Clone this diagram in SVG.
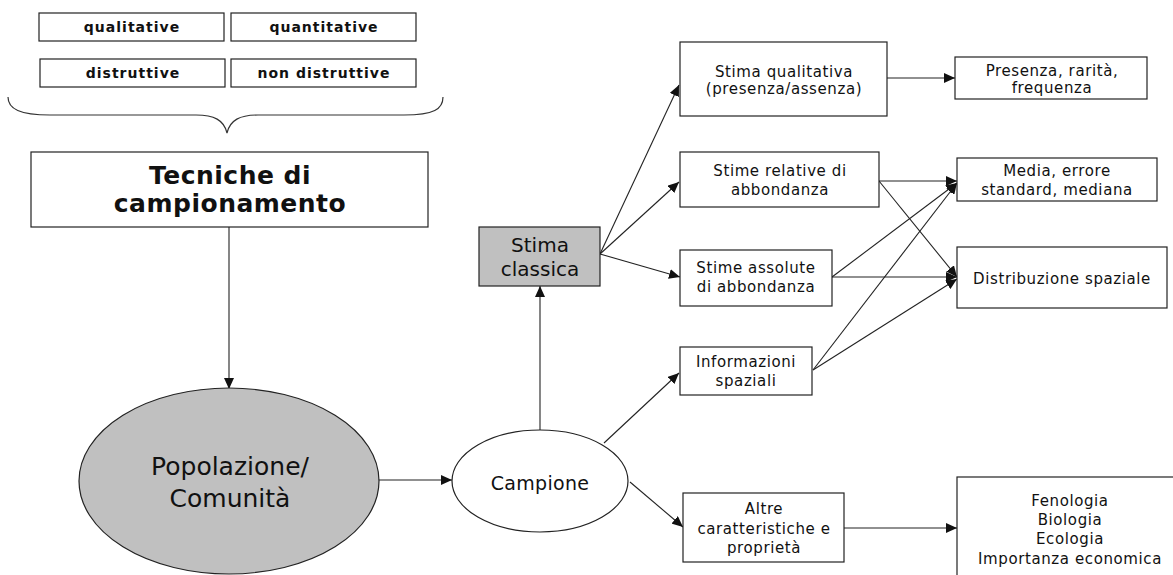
<svg xmlns="http://www.w3.org/2000/svg" width="1173" height="575" viewBox="0 0 1173 575">
<style>
.box{fill:#fff;stroke:#222;stroke-width:1.2}
.gray{fill:#c0c0c0;stroke:#222;stroke-width:1.2}
.t{font-family:"DejaVu Sans","Liberation Sans",sans-serif;fill:#111;text-anchor:middle}
.s{font-size:15px;letter-spacing:0.6px}
.b{font-weight:bold;font-size:14px;letter-spacing:1px}
.c{stroke:#222;stroke-width:1.1;fill:none;marker-end:url(#ah)}
</style>
<defs>
<marker id="ah" markerUnits="userSpaceOnUse" markerWidth="12" markerHeight="10" refX="11" refY="5" orient="auto">
<path d="M0,0 L11,5 L0,10 Z" fill="#111"/>
</marker>
</defs>
<rect width="1173" height="575" fill="#fff"/>

<g id="connectors">
<line class="c" x1="229" y1="227" x2="229" y2="389"/>
<line class="c" x1="378" y1="480" x2="452" y2="480"/>
<line class="c" x1="540" y1="430" x2="540" y2="286"/>
<line class="c" x1="600" y1="254" x2="679" y2="85"/>
<line class="c" x1="600" y1="254" x2="679" y2="182"/>
<line class="c" x1="600" y1="254" x2="680" y2="277"/>
<line class="c" x1="604" y1="443" x2="679" y2="373"/>
<line class="c" x1="630" y1="482" x2="683" y2="527"/>
<line class="c" x1="887" y1="78" x2="955" y2="78"/>
<line class="c" x1="879" y1="181" x2="957" y2="181"/>
<line class="c" x1="879" y1="181" x2="957" y2="277"/>
<line class="c" x1="832" y1="277" x2="957" y2="183"/>
<line class="c" x1="832" y1="277" x2="957" y2="277"/>
<line class="c" x1="813" y1="370" x2="957" y2="183"/>
<line class="c" x1="813" y1="370" x2="957" y2="279"/>
<line class="c" x1="844" y1="528" x2="957" y2="528"/>
</g>

<g id="qualitative"><rect class="box" x="39" y="13" width="185" height="28"/><text class="t b" x="132" y="32">qualitative</text></g>
<g id="quantitative"><rect class="box" x="231" y="13" width="185" height="28"/><text class="t b" x="324" y="32">quantitative</text></g>
<g id="distruttive"><rect class="box" x="40" y="59" width="185" height="28"/><text class="t b" x="133" y="78">distruttive</text></g>
<g id="non-distruttive"><rect class="box" x="231" y="59" width="185" height="28"/><text class="t b" x="324" y="78">non distruttive</text></g>

<g id="brace"><path d="M8,97 C8,109 20,115 50,115 L196,115 C214,115 224,120 227,133 C230,120 240,115 258,115 L404,115 C434,115 443,109 443,97" fill="none" stroke="#333" stroke-width="1.2"/></g>

<g id="tecniche"><rect class="box" x="31" y="152" width="397" height="75"/>
<text class="t" style="font-weight:bold;font-size:25px;letter-spacing:0.5px" x="230" y="184">Tecniche di</text>
<text class="t" style="font-weight:bold;font-size:25px;letter-spacing:0.5px" x="230" y="212">campionamento</text></g>

<g id="popolazione"><ellipse class="gray" cx="229" cy="481" rx="150" ry="93"/>
<text class="t" style="font-size:25px" x="230" y="475">Popolazione/</text>
<text class="t" style="font-size:25px" x="230" y="507">Comunità</text></g>

<g id="campione"><ellipse class="box" cx="540" cy="481" rx="88" ry="51"/>
<text class="t" style="font-size:19px;letter-spacing:0.3px" x="540" y="490">Campione</text></g>

<g id="stima-classica"><rect class="gray" x="479" y="227" width="121" height="59"/>
<text class="t" style="font-size:20px" x="540" y="252">Stima</text>
<text class="t" style="font-size:20px" x="540" y="276">classica</text></g>

<g id="stima-qualitativa"><rect class="box" x="680" y="42" width="207" height="74"/>
<text class="t s" x="784" y="77">Stima qualitativa</text>
<text class="t s" x="784" y="94">(presenza/assenza)</text></g>

<g id="presenza"><rect class="box" x="955" y="57" width="192" height="42"/>
<text class="t s" x="1052" y="76">Presenza, rarità,</text>
<text class="t s" x="1052" y="93">frequenza</text></g>

<g id="stime-relative"><rect class="box" x="680" y="152" width="199" height="55"/>
<text class="t s" x="780" y="176">Stime relative di</text>
<text class="t s" x="780" y="195">abbondanza</text></g>

<g id="media"><rect class="box" x="957" y="158" width="200" height="43"/>
<text class="t s" x="1057" y="176">Media, errore</text>
<text class="t s" x="1057" y="195">standard, mediana</text></g>

<g id="stime-assolute"><rect class="box" x="680" y="250" width="152" height="56"/>
<text class="t s" x="756" y="273">Stime assolute</text>
<text class="t s" x="756" y="292">di abbondanza</text></g>

<g id="distribuzione"><rect class="box" x="957" y="247" width="210" height="61"/>
<text class="t s" x="1062" y="284">Distribuzione spaziale</text></g>

<g id="informazioni"><rect class="box" x="680" y="347" width="132" height="48"/>
<text class="t s" x="746" y="367">Informazioni</text>
<text class="t s" x="746" y="386">spaziali</text></g>

<g id="altre"><rect class="box" x="683" y="493" width="161" height="69"/>
<text class="t s" x="764" y="514">Altre</text>
<text class="t s" x="764" y="534">caratteristiche e</text>
<text class="t s" x="764" y="553">proprietà</text></g>

<g id="fenologia"><rect class="box" x="957" y="477" width="230" height="110"/>
<text class="t s" x="1070" y="506">Fenologia</text>
<text class="t s" x="1070" y="525">Biologia</text>
<text class="t s" x="1070" y="544">Ecologia</text>
<text class="t s" x="1070" y="564">Importanza economica</text></g>
</svg>
